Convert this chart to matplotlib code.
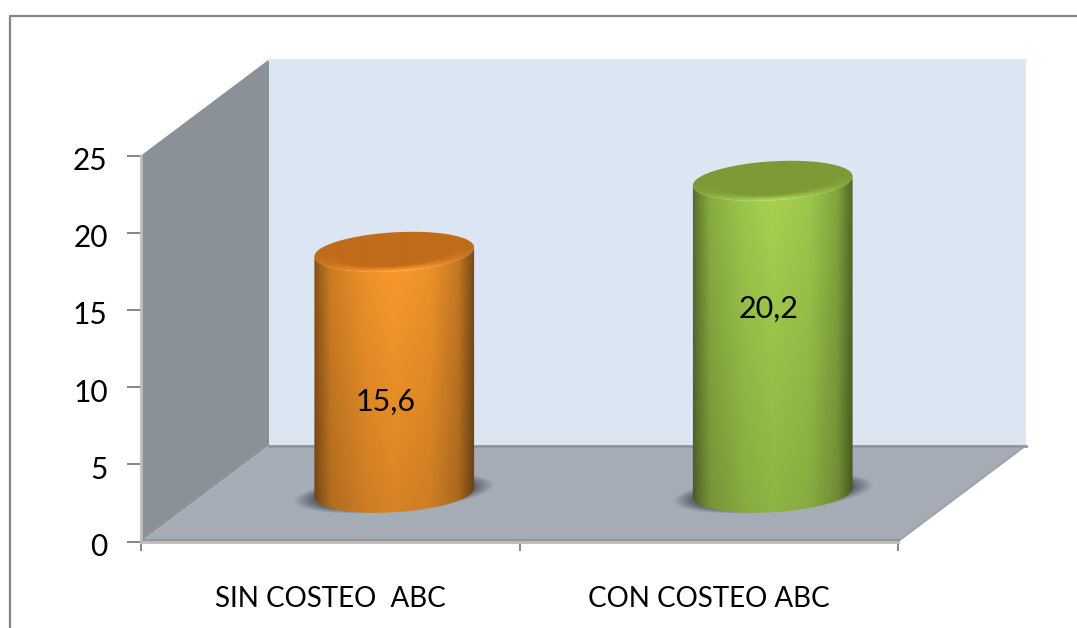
import numpy as np
import matplotlib
matplotlib.use("Agg")
import matplotlib.pyplot as plt
from matplotlib.lines import Line2D
from matplotlib.patches import Polygon
from matplotlib.transforms import ScaledTranslation

categorias = ["SIN COSTEO  ABC", "CON COSTEO ABC"]
valores = [15.6, 20.2]
textos_valores = ["15,6", "20,2"]
marcas_y = [0, 5, 10, 15, 20, 25]

ANCHO, ALTO = 1077, 628
X0, X1 = 141, 898
Y0, Y25 = 541.5, 155.5
PX_X = (X1 - X0) / 2.0
PX_Y = (Y0 - Y25) / 25.0

# profundidad del piso en unidades de datos
PROF_X = 128 / PX_X
PROF_Y = 96 / PX_Y

# semiejes de la elipse del cilindro, en pixeles
SEMI_A, SEMI_B = 80.0, 19.5
INCLINACION = np.radians(3.5)

plt.rcParams["font.family"] = ["Lato", "DejaVu Sans"]

fig = plt.figure(figsize=(ANCHO / 100, ALTO / 100), dpi=100, facecolor="white")
ax = fig.add_axes([X0 / ANCHO, 1 - Y0 / ALTO, (X1 - X0) / ANCHO, (Y0 - Y25) / ALTO])
ax.set_xlim(0, 2)
ax.set_ylim(0, 25)
ax.patch.set_visible(False)


def proyectar(x, y, d):
    return x + d * PROF_X, y + d * PROF_Y


def elipse(cx, cy, t):
    # puntos de la elipse inclinada, centro en datos y radios en pixeles
    dx = SEMI_A * np.cos(t) * np.cos(INCLINACION) - SEMI_B * np.sin(t) * np.sin(INCLINACION)
    dy = SEMI_A * np.cos(t) * np.sin(INCLINACION) + SEMI_B * np.sin(t) * np.cos(INCLINACION)
    return np.column_stack([cx + dx / PX_X, cy + dy / PX_Y])


def cajas_base():
    pared_izq = [proyectar(0, 0, 0), proyectar(0, 25, 0), proyectar(0, 25, 1), proyectar(0, 0, 1)]
    pared_fondo = [proyectar(0, 0, 1), proyectar(0, 25, 1), proyectar(2, 25, 1), proyectar(2, 0, 1)]
    piso = [proyectar(0, 0, 0), proyectar(0, 0, 1), proyectar(2, 0, 1), proyectar(2, 0, 0)]
    ax.add_patch(Polygon(pared_fondo, fc="#dce6f2", ec="none", clip_on=False, zorder=1))
    ax.add_patch(Polygon(pared_izq, fc="#8b9198", ec="none", clip_on=False, zorder=1.1))
    ax.add_patch(Polygon(piso, fc="#a6acb6", ec="none", clip_on=False, zorder=1.2))
    # bordes oscuros del piso
    xs, ys = zip(proyectar(0, 0, 1), proyectar(2, 0, 1))
    ax.plot(xs, ys, color="#93969c", lw=2.0, clip_on=False, zorder=1.3)
    xs, ys = zip(proyectar(2, 0, 1), proyectar(2, 0, 0))
    ax.plot(xs, ys, color="#a0a2a6", lw=1.2, clip_on=False, zorder=1.3)
    ax.plot([0, 2], [0.12, 0.12], color="#93969c", lw=2.0, clip_on=False, zorder=1.3)
    xs, ys = zip(proyectar(0, 25, 1), proyectar(2, 25, 1))
    ax.plot(xs, ys, color="#e4e9f6", lw=1.5, clip_on=False, zorder=1.3)


def sombra(cx, cy):
    # sombra difusa sobre el piso, debajo del cilindro
    nx, ny = 240, 80
    ancho, alto = 120.0, 40.0
    px = np.linspace(-ancho, ancho, nx)
    py = np.linspace(-alto, alto, ny)
    gx, gy = np.meshgrid(px, py)
    u = gx * np.cos(INCLINACION * 1.4) + gy * np.sin(INCLINACION * 1.4)
    v = -gx * np.sin(INCLINACION * 1.4) + gy * np.cos(INCLINACION * 1.4)
    d = np.sqrt((u / 101.0) ** 2 + (v / 19.0) ** 2)
    rgba = np.zeros((ny, nx, 4))
    rgba[..., :3] = np.array([76, 82, 94]) / 255
    rgba[..., 3] = np.clip((1.0 - d) / 0.2, 0, 1) * 0.8
    ax.imshow(rgba, origin="lower", aspect="auto", zorder=2,
              extent=[cx - ancho / PX_X, cx + ancho / PX_X, cy - alto / PX_Y, cy + alto / PX_Y])


def cilindro(cx, base, valor, claro, tapa):
    claro = np.array(claro, dtype=float) / 255
    tapa = np.array(tapa, dtype=float) / 255
    cy = base + valor

    # cuerpo: degradado horizontal que se oscurece hacia abajo
    nx, ny = 220, 220
    u = np.linspace(-1, 1, nx)
    v = np.linspace(0, 1, ny)  # 0 abajo, 1 arriba
    perfil = np.interp(u, [-1, -0.93, -0.78, -0.35, 0.0, 0.45, 0.8, 0.93, 1],
                       [0.50, 0.62, 0.82, 0.95, 1.0, 0.95, 0.78, 0.58, 0.47])
    gu, gv = np.meshgrid(perfil, v)
    factor = gu * (0.84 + 0.16 * gv)
    cuerpo = np.clip(factor[..., None] * claro, 0, 1)
    t_baja = np.linspace(np.pi, 2 * np.pi, 80)
    contorno = np.vstack([elipse(cx, base, t_baja), elipse(cx, cy, t_baja[::-1])])
    x_lim = (cx - (SEMI_A + 1) / PX_X, cx + (SEMI_A + 1) / PX_X)
    im = ax.imshow(cuerpo, origin="lower", aspect="auto", zorder=3, interpolation="bilinear",
                   extent=[x_lim[0], x_lim[1], base - 25 / PX_Y, cy + 25 / PX_Y])
    im.set_clip_path(Polygon(contorno, transform=ax.transData))

    # tapa superior con el brillo en el borde de abajo
    px = np.linspace(-SEMI_A - 2, SEMI_A + 2, 220)
    py = np.linspace(-25, 25, 100)
    gx, gy = np.meshgrid(px, py)
    a = gx * np.cos(INCLINACION) + gy * np.sin(INCLINACION)
    b = -gx * np.sin(INCLINACION) + gy * np.cos(INCLINACION)
    d = np.sqrt((a / SEMI_A) ** 2 + (b / SEMI_B) ** 2)
    borde = np.clip((d - 0.72) / 0.28, 0, 1) * np.clip(-b / SEMI_B * 1.6, 0, 1)
    borde = borde * np.clip(1.15 - np.abs(a) / SEMI_A, 0, 1)
    img = tapa[None, None, :] * (1 - borde[..., None]) + claro[None, None, :] * 1.05 * borde[..., None]
    im = ax.imshow(np.clip(img, 0, 1), origin="lower", aspect="auto", zorder=4, interpolation="bilinear",
                   extent=[cx - (SEMI_A + 2) / PX_X, cx + (SEMI_A + 2) / PX_X, cy - 25 / PX_Y, cy + 25 / PX_Y])
    t = np.linspace(0, 2 * np.pi, 160)
    im.set_clip_path(Polygon(elipse(cx, cy, t), transform=ax.transData))


cajas_base()

centros = [0.5, 1.5]
x_base = [proyectar(c, 0, 0.5)[0] for c in centros]
y_base = proyectar(0, 0, 0.5)[1] + 0.05
colores_claros = [(255, 156, 44), (168, 213, 80)]
colores_tapa = [(192, 108, 26), (124, 154, 54)]

for cx, valor, claro, tapa in zip(x_base, valores, colores_claros, colores_tapa):
    sombra(cx, y_base)
    cilindro(cx, y_base, valor, claro, tapa)

# etiquetas de valor sobre cada cilindro
pos_textos = [(0.645, 9.07), (1.658, 15.1)]
for (tx, ty), texto in zip(pos_textos, textos_valores):
    ax.text(tx, ty, texto, ha="center", va="center", fontsize=22, color="black", zorder=6)

ax.set_xlim(0, 2)
ax.set_ylim(0, 25)

# ejes
for lado in ["top", "right"]:
    ax.spines[lado].set_visible(False)
for lado in ["left", "bottom"]:
    ax.spines[lado].set_color("#bdbdbd")
    ax.spines[lado].set_linewidth(2.0)
    ax.spines[lado].set_zorder(5)
ax.set_yticks(marcas_y)
ax.set_yticklabels([str(m) for m in marcas_y])
ax.set_xticks([0, 1, 2])
ax.set_xticklabels([])
ax.set_xticks(centros, minor=True)
ax.set_xticklabels(categorias, minor=True)
ax.tick_params(axis="y", length=10, width=1.4, color="#868686", pad=14, labelsize=21.5, labelcolor="black")
ax.tick_params(axis="x", which="major", length=6.5, width=1.4, color="#868686")
ax.tick_params(axis="x", which="minor", length=0, pad=32, labelsize=20, labelcolor="black")

# los numeros del eje quedan un poco por debajo de su marca
bajar = ScaledTranslation(0, -3 / 100, fig.dpi_scale_trans)
for etiqueta in ax.get_yticklabels():
    etiqueta.set_transform(etiqueta.get_transform() + bajar)

# marco exterior, cortado por el borde de la imagen
borde = Line2D([9.5 / ANCHO, 9.5 / ANCHO, 1], [0, 1 - 15.5 / ALTO, 1 - 15.5 / ALTO],
               transform=fig.transFigure, color="#868686", lw=1.6)
fig.add_artist(borde)

fig.savefig("out.png", dpi=100, facecolor="white")
